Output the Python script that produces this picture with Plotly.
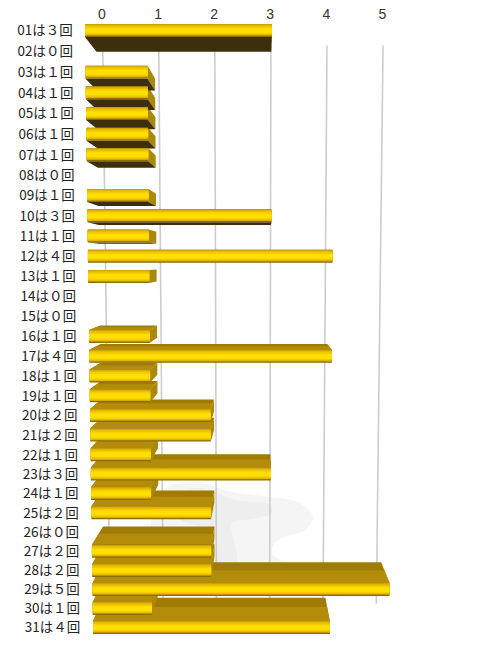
import plotly.graph_objects as go

# ---- data ----
days = [f"{d:02d}" for d in range(1, 32)]
counts = [3, 0, 1, 1, 1, 1, 1, 0, 1, 3, 1, 4, 1, 0, 0, 1, 4, 1, 1, 2, 2, 1, 3, 1, 2, 0, 2, 2, 5, 1, 4]
axis_ticks = [0, 1, 2, 3, 4, 5]
FW = "０１２３４５"
labels = [f"{d}は{FW[c]}回" for d, c in zip(days, counts)]

# ---- page / axis scales (value unit = 60 px, row unit = 20 px) ----
W, H, TOP = 485, 646, 23
PX_PER_VALUE, PX_PER_ROW, ZERO_PX = 60.0, 20.0, 90.0
XRANGE = [-ZERO_PX / PX_PER_VALUE, (W - ZERO_PX) / PX_PER_VALUE]
YRANGE = [H / PX_PER_ROW, TOP / PX_PER_ROW]

# ---- perspective camera ----
VX, VY, KBAR, KGRIDX = 262.0, 262.0, 0.065, 0.1
FACE_H = 13.0


def row_px(rank):
    i = rank - 1
    return 30.5 + 20.89 * i - 0.033 * i * i


def left_px(rank):
    return 85 + 8 * (rank - 1) / 30


def scale_px(rank):
    return 62.3 - 3.1 * (rank - 1) / 30


def front_px(value, rank):
    return left_px(rank) + value * scale_px(rank)


def ax_x(px):
    return (px - ZERO_PX) / PX_PER_VALUE


def ax_y(px):
    return px / PX_PER_ROW


def back(xp, yp, kx=KBAR, ky=KBAR):
    return xp + (VX - xp) * kx, yp + (VY - yp) * ky


def polys(list_of_polys):
    xs, ys = [], []
    for poly in list_of_polys:
        for xp, yp in poly + poly[:1]:
            xs.append(ax_x(xp))
            ys.append(ax_y(yp))
        xs.append(None)
        ys.append(None)
    return xs, ys


fig = go.Figure()


def fill_trace(list_of_polys, color, spline=False):
    xs, ys = polys(list_of_polys)
    fig.add_trace(go.Scatter(x=xs, y=ys, mode="lines", fill="toself", fillcolor=color,
                             line=dict(width=0, color=color, shape="spline" if spline else "linear"),
                             hoverinfo="skip", showlegend=False))


# faint background watermark
fill_trace([[(150, 530), (160, 492), (195, 482), (232, 492), (270, 497), (300, 503), (313, 517), (305, 530),
             (278, 540), (272, 553), (290, 566), (200, 568), (150, 568)]], "#f5f5f5", spline=True)
fill_trace([[(165, 500), (200, 488), (235, 500), (270, 505), (272, 513), (245, 520), (232, 522),
             (236, 566), (212, 566), (205, 530), (180, 520)]], "#eeeeee", spline=True)

# grid on the back wall
for v in axis_ticks:
    x1, y1 = back(front_px(v, 1), row_px(1), KGRIDX, KBAR)
    x2, y2 = back(front_px(v, 31), row_px(31), KGRIDX, KBAR)
    fig.add_trace(go.Scatter(x=[ax_x(x1), ax_x(x2)], y=[ax_y(y1), ax_y(y2)], mode="lines",
                             line=dict(color="#cccccc", width=1.6), hoverinfo="skip", showlegend=False))

# depth faces
tops, tops_near, sides, bottoms = [], [], [], []
for i, c in enumerate(counts):
    if c == 0:
        continue
    r = i + 1
    xl, xr = front_px(0, r), front_px(c, r)
    yt, yb = row_px(r) - FACE_H / 2, row_px(r) + FACE_H / 2
    if yt > VY:
        bl, br = back(xl, yt), back(xr, yt)
        tops.append([(xl, yt), (xr, yt), br, bl])
        ml, mr = back(xl, yt, KBAR * .6, KBAR * .6), back(xr, yt, KBAR * .6, KBAR * .6)
        tops_near.append([(xl, yt), (xr, yt), mr, ml])
    if yb < VY:
        bl, br = back(xl, yb), back(xr, yb)
        bottoms.append([(xl, yb), (xr, yb), br, bl])
    if xr < VX:
        sides.append([(xr, yt), (xr, yb), back(xr, yb), back(xr, yt)])
fill_trace(tops, "#a07c06")
fill_trace(tops_near, "#b38d0a")
fill_trace(sides, "#aa880a")
fill_trace(bottoms, "#3e2f0c")

# labels
fig.add_trace(go.Scatter(
    x=[ax_x(45 + 7.5 * i / 30) for i in range(31)],
    y=[ax_y(row_px(i + 1) + 1.5) for i in range(31)],
    text=labels, mode="text", textposition="middle center",
    textfont=dict(family="Noto Sans CJK JP", size=13.5, color="#222222"),
    hoverinfo="skip", showlegend=False))

# front faces: stacked narrowing bars give the vertical gradient
ranks = list(range(1, 32))
layers = [(1.00, 0.0, "#8d6c02"), (0.90, -0.6, "#d0a400"), (0.76, -0.4, "#e8bb00"),
          (0.58, -0.2, "#f6cc00"), (0.36, 0.0, "#ffdf00")]
for frac, shift, color in layers:
    fig.add_trace(go.Bar(
        orientation="h",
        x=[c * scale_px(r) / PX_PER_VALUE for c, r in zip(counts, ranks)],
        y=[ax_y(row_px(r) + shift) for r in ranks],
        base=[ax_x(left_px(r)) for r in ranks],
        width=FACE_H * frac / PX_PER_ROW,
        marker=dict(color=color, line=dict(width=0)),
        xaxis="x2", yaxis="y2", hoverinfo="skip", showlegend=False))

tick_pos = [ax_x(back(front_px(v, 1), row_px(1), KGRIDX, KBAR)[0] - 0.7) for v in axis_ticks]

fig.update_layout(
    width=W, height=H, margin=dict(l=0, r=0, t=TOP, b=0), autosize=False,
    paper_bgcolor="white", plot_bgcolor="rgba(0,0,0,0)", barmode="overlay",
    showlegend=False, font=dict(family="Liberation Sans"),
    xaxis=dict(range=XRANGE, side="top", tickmode="array", tickvals=tick_pos,
               ticktext=[str(v) for v in axis_ticks], showgrid=False, zeroline=False, showline=False,
               ticks="", tickfont=dict(size=14, color="#333333"), tickangle=0),
    yaxis=dict(range=YRANGE, visible=False),
    xaxis2=dict(range=XRANGE, overlaying="x", visible=False),
    yaxis2=dict(range=YRANGE, overlaying="y", visible=False),
)

fig.write_html("out.html", config={"displayModeBar": False},
               post_script="document.body.style.margin='0';")
